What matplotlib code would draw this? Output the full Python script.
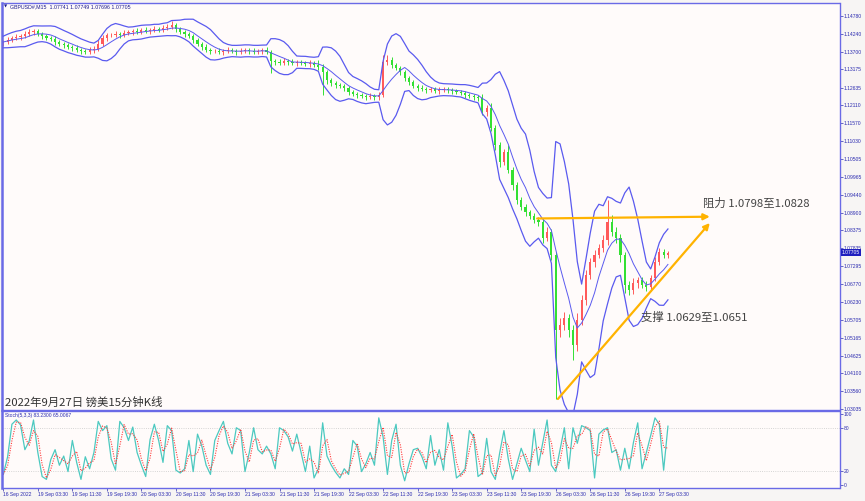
import numpy as np
import pandas as pd
import matplotlib
matplotlib.use("Agg")
import matplotlib.pyplot as plt
from matplotlib.transforms import blended_transform_factory

plt.rcParams['font.family'] = ['Liberation Sans', 'DejaVu Sans']
CJK = ['Noto Sans CJK SC', 'DejaVu Sans']

# hourly closes, GBPUSD 16 Sep 19:30 .. 27 Sep 06:30
open0 = 1.13960
closes = np.array([
    1.13995, 1.14055, 1.14114, 1.14144, 1.14174, 1.14234, 1.14293, 1.14323, 1.14234, 1.14174,
    1.14114, 1.14084, 1.13995, 1.13935, 1.13905, 1.13846, 1.13816, 1.13756, 1.13726, 1.13696,
    1.13756, 1.13786, 1.13935, 1.14114, 1.14204, 1.14204, 1.14234, 1.14204, 1.14264, 1.14293,
    1.14323, 1.14293, 1.14353, 1.14323, 1.14353, 1.14383, 1.14353, 1.14413, 1.14443, 1.14502,
    1.14383, 1.14293, 1.14234, 1.14174, 1.14055, 1.13935, 1.13846, 1.13756, 1.13726, 1.13726,
    1.13696, 1.13726, 1.13756, 1.13726, 1.13696, 1.13726, 1.13756, 1.13726, 1.13696, 1.13726,
    1.13756, 1.13696, 1.13428, 1.13398, 1.13368, 1.13428, 1.13398, 1.13368, 1.13398, 1.13368,
    1.13338, 1.13368, 1.13308, 1.13248, 1.13099, 1.12860, 1.12771, 1.12711, 1.12681, 1.12621,
    1.12502, 1.12442, 1.12412, 1.12383, 1.12353, 1.12383, 1.12353, 1.12412, 1.13398, 1.13457,
    1.13308, 1.13219, 1.13099, 1.12920, 1.12800, 1.12681, 1.12621, 1.12591, 1.12562, 1.12591,
    1.12532, 1.12562, 1.12591, 1.12562, 1.12532, 1.12502, 1.12472, 1.12412, 1.12383, 1.12353,
    1.12323, 1.11905, 1.12024, 1.11427, 1.10919, 1.10412, 1.10710, 1.10173, 1.09725, 1.09277,
    1.09068, 1.08919, 1.08799, 1.08680, 1.08620, 1.08142, 1.08322, 1.07635, 1.05395, 1.05545,
    1.05754, 1.05395, 1.04947, 1.05694, 1.06291, 1.07038, 1.07426, 1.07635, 1.07844, 1.08083,
    1.08620, 1.08322, 1.08142, 1.07635, 1.06739, 1.06590, 1.06799, 1.06888, 1.06739, 1.06679,
    1.06948, 1.07426, 1.07724, 1.07635, 1.07705])

# wick sizes in pips above max(open, close) / below min(open, close)
upper_wick = np.array([
    6, 8, 7, 9, 6, 8, 10, 7, 5, 6,
    7, 5, 8, 6, 7, 5, 6, 8, 6, 7,
    9, 8, 12, 10, 7, 6, 8, 7, 9, 6,
    7, 8, 6, 9, 7, 8, 6, 9, 8, 12,
    6, 5, 7, 6, 5, 7, 6, 8, 6, 7,
    8, 6, 9, 7, 6, 8, 7, 6, 8, 7,
    6, 9, 5, 7, 8, 9, 6, 8, 7, 6,
    7, 8, 6, 16, 10, 6, 7, 5, 6, 7,
    6, 7, 5, 6, 7, 8, 6, 9, 21, 14,
    8, 6, 7, 5, 6, 7, 6, 8, 7, 6,
    7, 8, 6, 7, 6, 5, 7, 6, 5, 6,
    7, 12, 9, 15, 10, 9, 8, 20, 10, 9,
    8, 10, 7, 9, 8, 10, 14, 9, 9, 20,
    18, 12, 14, 20, 15, 16, 12, 14, 12, 15,
    66, 20, 15, 12, 10, 12, 14, 10, 9, 12,
    10, 14, 12, 8, 6])
lower_wick = np.array([
    8, 6, 7, 5, 8, 6, 7, 9, 6, 8,
    6, 7, 8, 6, 9, 7, 8, 6, 9, 7,
    6, 8, 5, 7, 9, 6, 7, 8, 6, 7,
    8, 6, 7, 5, 8, 6, 7, 5, 6, 7,
    8, 7, 9, 6, 8, 7, 9, 6, 8, 7,
    6, 8, 7, 6, 9, 7, 6, 8, 7, 6,
    8, 7, 36, 8, 6, 7, 9, 6, 8, 7,
    6, 8, 7, 9, 68, 12, 10, 8, 7, 9,
    8, 7, 9, 6, 8, 7, 9, 8, 6, 8,
    9, 7, 8, 10, 8, 7, 9, 6, 8, 7,
    6, 8, 7, 9, 8, 7, 6, 8, 7, 9,
    8, 10, 12, 9, 14, 16, 10, 10, 15, 12,
    10, 12, 9, 10, 12, 14, 10, 15, 205, 20,
    15, 22, 45, 18, 14, 16, 12, 15, 10, 12,
    14, 12, 15, 20, 24, 15, 12, 14, 10, 12,
    12, 10, 9, 10, 8])

# Stochastic %K (one value per hour)
stoch_k = np.array([
    15, 40, 86, 92, 85, 50, 62, 92, 46, 12,
    8, 36, 50, 28, 41, 19, 63, 32, 8, 40,
    23, 46, 90, 77, 84, 37, 21, 90, 81, 63,
    82, 46, 28, 12, 64, 86, 63, 32, 84, 77,
    21, 17, 23, 63, 19, 72, 55, 28, 15, 63,
    77, 90, 59, 44, 81, 77, 19, 46, 81, 50,
    44, 55, 44, 23, 81, 77, 68, 48, 72, 46,
    19, 55, 10, 23, 88, 41, 28, 18, 10, 23,
    15, 63, 55, 19, 30, 46, 28, 95, 68, 15,
    63, 86, 28, 6, 30, 50, 52, 40, 23, 70,
    28, 50, 21, 88, 55, 10, 15, 23, 77, 68,
    12, 17, 66, 19, 8, 45, 77, 37, 8, 30,
    52, 35, 19, 79, 28, 60, 92, 28, 19, 50,
    81, 23, 81, 59, 84, 81, 77, 10, 72, 78,
    81, 46, 50, 21, 52, 23, 60, 88, 23, 46,
    70, 95, 86, 21, 83.23])

price_ticks = [1.14780, 1.14240, 1.13700, 1.13175, 1.12635, 1.12110, 1.11570, 1.11030,
               1.10505, 1.09965, 1.09440, 1.08900, 1.08375, 1.07835, 1.07295, 1.06770,
               1.06230, 1.05705, 1.05165, 1.04625, 1.04100, 1.03560, 1.03035]
time_labels = ['16 Sep 2022', '19 Sep 03:30', '19 Sep 11:30', '19 Sep 19:30', '20 Sep 03:30',
               '20 Sep 11:30', '20 Sep 19:30', '21 Sep 03:30', '21 Sep 11:30', '21 Sep 19:30',
               '22 Sep 03:30', '22 Sep 11:30', '22 Sep 19:30', '23 Sep 03:30', '23 Sep 11:30',
               '23 Sep 19:30', '26 Sep 03:30', '26 Sep 11:30', '26 Sep 19:30', '27 Sep 03:30']

t = np.arange(len(closes))
opens = np.r_[open0, closes[:-1]]
highs = np.maximum(opens, closes) + upper_wick * 1e-4
lows = np.minimum(opens, closes) - lower_wick * 1e-4

# Bollinger bands on hourly bars (6 hours ~ 24 x M15)
n = 6
mid = pd.Series(closes).rolling(n, min_periods=1).mean().values
sd = np.array([np.std(np.r_[highs[max(0, i - n + 1):i + 1], lows[max(0, i - n + 1):i + 1],
                            closes[max(0, i - n + 1):i + 1]]) for i in t])
upper = mid + 2.4 * sd
lower = mid - 2.4 * sd

stoch_d = pd.Series(stoch_k).rolling(2, min_periods=1).mean().values

BG = '#fffbfa'
FRAME = '#6a6ae6'
TXT = '#2b2bb0'
RED = '#ff5a5a'
GREEN = '#33e033'
BAND = '#5a5aef'
ORANGE = '#ffb300'

fig = plt.figure(figsize=(8.65, 5.01), dpi=100, facecolor='#f7f5f4')
W, H = 865, 501
ax = fig.add_axes([2 / W, 1 - 410 / H, 837.5 / W, 407 / H], facecolor=BG)
ax2 = fig.add_axes([2 / W, 1 - 488 / H, 837.5 / W, 77 / H], facecolor=BG)

up = closes >= opens
cols = np.where(up, RED, GREEN)
ax.vlines(t, lows, highs, colors=cols, lw=0.7, zorder=2)
ax.bar(t, np.maximum(np.abs(closes - opens), 0.00008), bottom=np.minimum(opens, closes),
       width=0.5, color=cols, linewidth=0, zorder=2)
ax.plot(t, upper, color=BAND, lw=0.9, zorder=3)
ax.plot(t, lower, color=BAND, lw=0.9, zorder=3)
ax.plot(t, mid, color=BAND, lw=0.7, zorder=3)

xlim = (-0.3, 193.75)
ax.set_xlim(*xlim)
ax.set_ylim(1.03006, 1.15159)
ax.set_xticks([])
ax.yaxis.tick_right()
ax.set_yticks(price_ticks)
ax.set_yticklabels([f'{p:.5f}' for p in price_ticks])
ax.tick_params(axis='y', labelsize=3.6, colors=TXT, length=2, width=0.5, pad=1)

for a in (ax, ax2):
    for s in a.spines.values():
        s.set_color(FRAME)
        s.set_linewidth(1)
    a.spines['left'].set_linewidth(1.8)

# current price box
tr = blended_transform_factory(ax.transAxes, ax.transData)
ax.text(1.003, closes[-1], f'{closes[-1]:.5f}', transform=tr, fontsize=3.6, color='white',
        va='center', ha='left', clip_on=False, zorder=10,
        bbox=dict(boxstyle='square,pad=0.25', fc='#1f1fbf', ec='none'))

# annotations
ax.annotate('', xy=(163.7, 1.08778), xytext=(123.7, 1.08725),
            arrowprops=dict(arrowstyle='-|>', color=ORANGE, lw=1.6, mutation_scale=9,
                            shrinkA=0, shrinkB=0), zorder=5)
ax.annotate('', xy=(163.7, 1.08590), xytext=(128.5, 1.03335),
            arrowprops=dict(arrowstyle='-|>', color=ORANGE, lw=1.6, mutation_scale=9,
                            shrinkA=0, shrinkB=0), zorder=5)
ax.text(162.1, 1.09188, '阻力 1.0798至1.0828', family=CJK, fontsize=8.2, color='#444444',
        va='center', ha='left')
ax.text(147.8, 1.05784, '支撑 1.0629至1.0651', family=CJK, fontsize=8.2, color='#444444',
        va='center', ha='left')
ax.text(0.0036, 0.018, '2022年9月27日 镑美15分钟K线', transform=ax.transAxes, family=CJK,
        fontsize=8.2, color='#333333', va='center', ha='left')

fig.text(4 / W, 1 - 7 / H, '▼', fontsize=3, color='#1a1a8c', va='center', ha='left',
         family='DejaVu Sans')
fig.text(10 / W, 1 - 7 / H, 'GBPUSD#,M15  1.07741 1.07749 1.07696 1.07705', fontsize=3.8,
         color='#1a1a8c', va='center', ha='left')

# stochastic panel
ax2.axhline(80, color='#c8c8c8', lw=0.6, ls=':')
ax2.axhline(20, color='#c8c8c8', lw=0.6, ls=':')
ax2.plot(t, stoch_k, color='#4cc9c0', lw=0.9)
ax2.plot(t, stoch_d, color='#ff3b3b', lw=0.8, ls=(0, (1, 1.2)))
ax2.set_xlim(*xlim)
ax2.set_ylim(-4.2, 104.7)
ax2.yaxis.tick_right()
ax2.set_yticks([0, 20, 80, 100])
ax2.tick_params(axis='y', labelsize=3.6, colors=TXT, length=2, width=0.5, pad=1)
ax2.set_xticks(np.arange(len(time_labels)) * 8)
ax2.set_xticklabels(time_labels)
ax2.tick_params(axis='x', labelsize=3.6, colors=TXT, length=2, width=0.5, pad=1)
for lbl in ax2.get_xticklabels():
    lbl.set_ha('left')
ax2.text(0.004, 0.94, f'Stoch(5,3,3) {stoch_k[-1]:.4f} 65.0067', transform=ax2.transAxes,
         fontsize=3.6, color=TXT, va='center', ha='left')

fig.savefig('out.png', dpi=100, facecolor=fig.get_facecolor())
